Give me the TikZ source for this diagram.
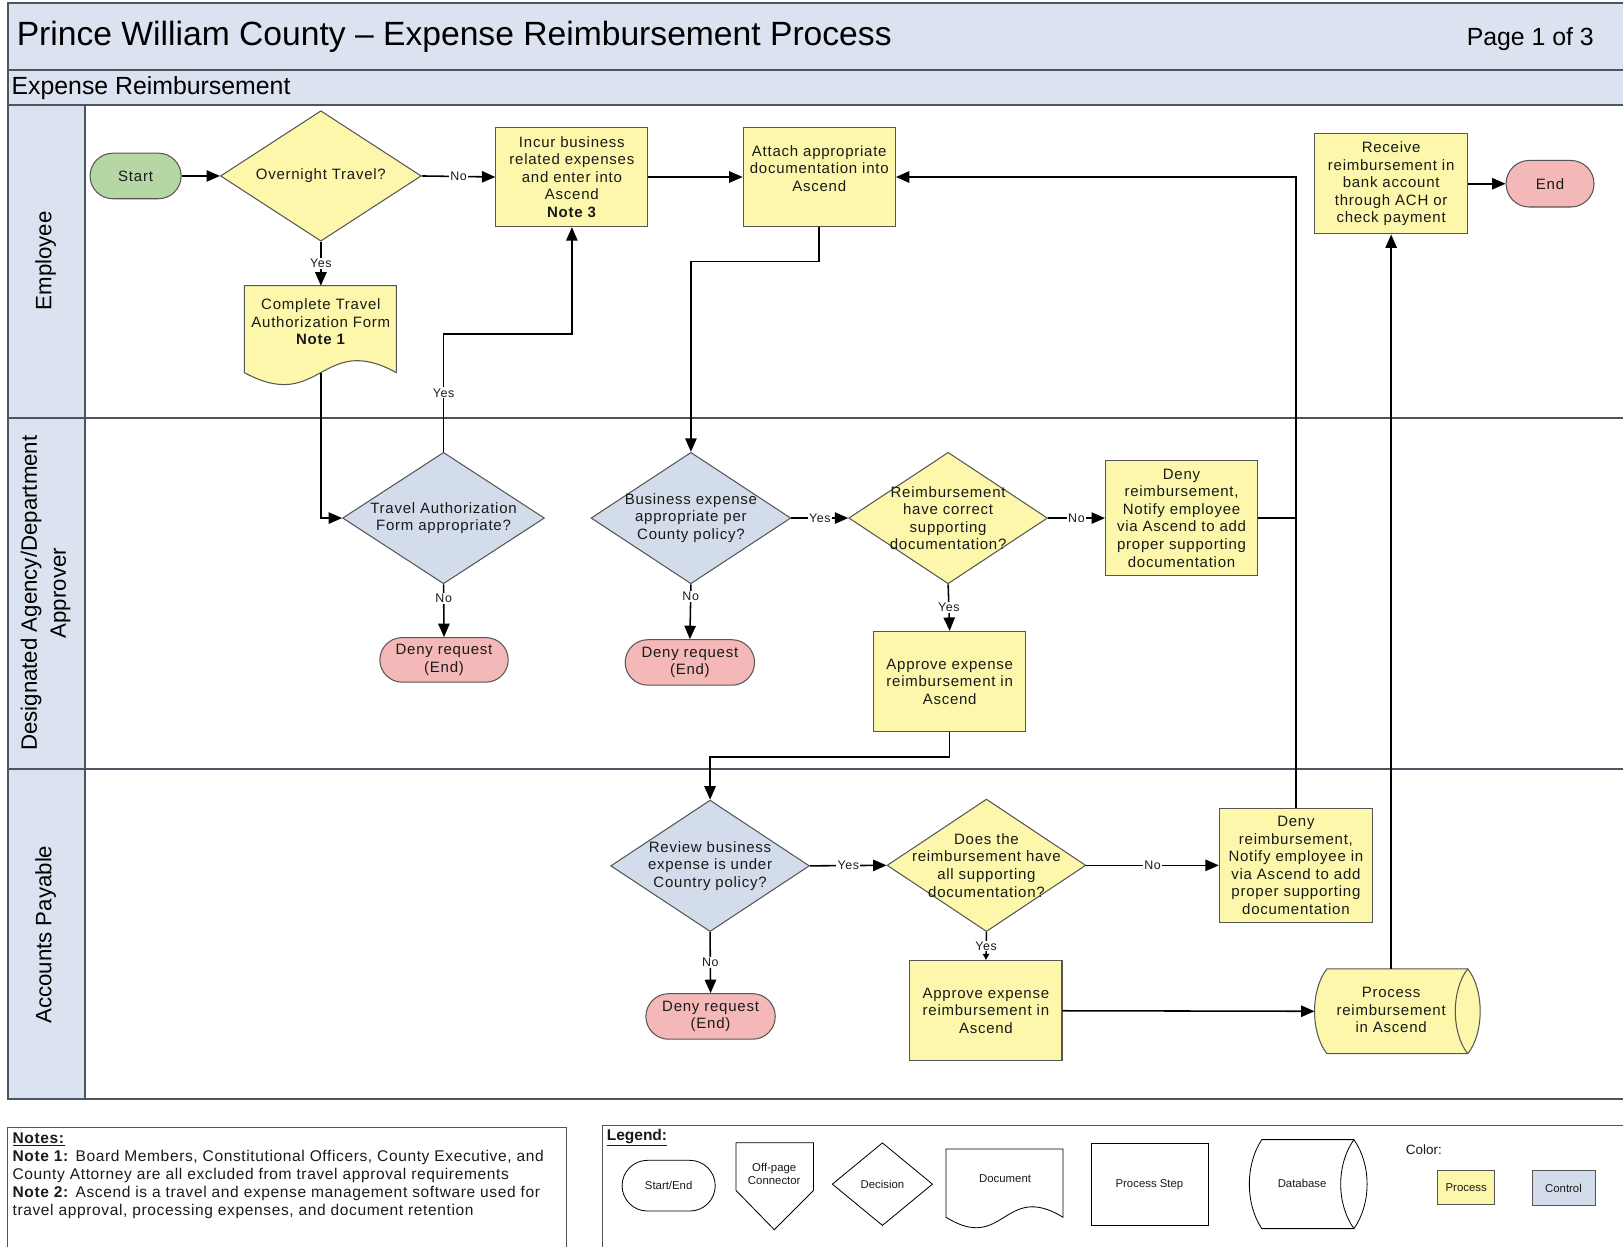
\documentclass[tikz,border=0pt]{standalone}
\usepackage{fontspec}
\setmainfont{Liberation Sans}
\newfontfamily\nf[LetterSpace=5]{Liberation Sans}
\newfontfamily\ntf[LetterSpace=4]{Liberation Sans}
\usetikzlibrary{shapes.geometric,shapes.misc,arrows.meta}
\definecolor{hdr}{HTML}{DCE3F0}
\definecolor{ylw}{HTML}{FCF7AA}
\definecolor{ctl}{HTML}{D3DCEB}
\definecolor{grn}{HTML}{B5D7A3}
\definecolor{pnk}{HTML}{F5B8B8}
\definecolor{bord}{HTML}{555555}
\definecolor{frm}{HTML}{4E5561}
\definecolor{txc}{HTML}{1A1A1A}
\tikzset{
  frame/.style={draw=frm, line width=2pt},
  base/.style={draw=bord, line width=1pt, text=txc, align=center, inner sep=0pt,
    font=\nf\fontsize{14.5}{17}\selectfont},
  txt/.style={text=txc, align=center, inner sep=0pt, font=\nf\fontsize{14.5}{17}\selectfont},
  proc/.style={base, rectangle, fill=ylw},
  dia/.style={base, diamond},
  pill/.style={base, rounded rectangle},
  shapeline/.style={draw=bord, line width=1pt},
  arr/.style={line width=1.5pt, -{Triangle[length=13pt,width=11pt]}},
  smallarr/.style={line width=1.5pt, -{Triangle[length=6pt,width=6pt]}},
  plain/.style={line width=1.5pt},
  lbl/.style={fill=white, inner sep=1pt, text=txc, font=\nf\fontsize{12}{14}\selectfont},
  lg/.style={draw=black, line width=0.8pt, fill=white},
  lgtxt/.style={text=txc, align=center, inner sep=0pt, font=\fontsize{11}{13}\selectfont},
}
\begin{document}
\begin{tikzpicture}[x=1pt,y=-1pt]
\useasboundingbox (0,0) rectangle (1568,1204);
\fill[white] (0,0) rectangle (1568,1204);
% header and lanes
\fill[hdr] (8,3) rectangle (1572,101);
\fill[hdr] (8,101) rectangle (82,1062);
\draw[frame] (1572,3) -- (8,3) -- (8,1062) -- (1572,1062);
\draw[frame] (8,68) -- (1572,68);
\draw[frame] (8,101) -- (1572,101);
\draw[frame] (8,404) -- (1572,404);
\draw[frame] (8,743) -- (1572,743);
\draw[frame] (82,101) -- (82,1062);
\node[anchor=west, inner sep=0pt, font=\fontsize{32.5}{38}\selectfont] (title) at (16,36) {Prince William County – Expense Reimbursement Process};
\node[anchor=east, inner sep=0pt, font=\fontsize{24}{28}\selectfont] (page) at (1540,38) {Page 1 of 3};
\node[anchor=west, inner sep=0pt, font=\fontsize{24}{28}\selectfont] (sub) at (11,85) {Expense Reimbursement};
\node[rotate=90, inner sep=0pt, font=\fontsize{21.5}{28}\selectfont] (l1) at (44,252) {Employee};
\node[rotate=90, inner sep=0pt, align=center, font=\fontsize{21.5}{28}\selectfont] (l2) at (44,573) {Designated Agency/Department\\Approver};
\node[rotate=90, inner sep=0pt, font=\fontsize{21.5}{28}\selectfont] (l3) at (44,903) {Accounts Payable};
% Employee lane
\node[pill, fill=grn, minimum width=88pt, minimum height=44pt] (start) at (131,170) {Start};
\node[dia, fill=ylw, minimum width=194pt, minimum height=126pt] (ot) at (310,170) {};
\node[txt] at (ot) {Overnight Travel?};
\node[proc, minimum width=147pt, minimum height=96pt] (incur) at (552.5,171) {Incur business\\related expenses\\and enter into\\Ascend\\\textbf{Note 3}};
\node[proc, minimum width=147pt, minimum height=96pt] (attach) at (791.5,171) {Attach appropriate\\documentation into\\Ascend\\\mbox{}};
\node[proc, minimum width=148pt, minimum height=97pt] (recv) at (1344,177.5) {Receive\\reimbursement in\\bank account\\through ACH or\\check payment};
\node[pill, fill=pnk, minimum width=85pt, minimum height=45pt] (end) at (1497.5,177.5) {End};
\filldraw[shapeline, fill=ylw] (236,276) -- (383,276) -- (383,360) .. controls (310,320) and (310,400) .. (236,360) -- cycle;
\node[txt] (ctaf) at (310,311) {Complete Travel\\Authorization Form\\\textbf{Note 1}};
\coordinate (ctafTop) at (310,276);
\coordinate (ctafBot) at (310,360);
% Approver lane
\node[dia, fill=ctl, minimum width=195pt, minimum height=127pt] (ta) at (428.5,500.5) {};
\node[txt] at (ta) {Travel Authorization\\Form appropriate?};
\node[pill, fill=pnk, minimum width=124pt, minimum height=43pt] (dr1) at (429,637.5) {Deny request\\(End)};
\node[dia, fill=ctl, minimum width=193pt, minimum height=127pt] (be) at (667.5,500.5) {};
\node[txt] at (be) {Business expense\\appropriate per\\County policy?};
\node[pill, fill=pnk, minimum width=125pt, minimum height=44pt] (dr2) at (666.5,640) {Deny request\\(End)};
\node[dia, fill=ylw, minimum width=192pt, minimum height=127pt] (rd) at (916,500.5) {};
\node[txt] at (rd) {Reimbursement\\have correct\\supporting\\documentation?};
\node[proc, minimum width=147pt, minimum height=111pt] (deny1) at (1141.5,500.5) {Deny\\reimbursement,\\Notify employee\\via Ascend to add\\proper supporting\\documentation};
\node[proc, minimum width=147pt, minimum height=97pt] (appr1) at (917.5,658.5) {Approve expense\\reimbursement in\\Ascend};
% Accounts payable lane
\node[dia, fill=ctl, minimum width=192pt, minimum height=127pt] (rv) at (686,836.5) {};
\node[txt] at (rv) {Review business\\expense is under\\Country policy?};
\node[pill, fill=pnk, minimum width=125pt, minimum height=44pt] (dr3) at (686.5,982) {Deny request\\(End)};
\node[dia, fill=ylw, minimum width=192pt, minimum height=128pt] (does) at (953,836) {};
\node[txt] at (does) {Does the\\reimbursement have\\all supporting\\documentation?};
\node[proc, minimum width=148pt, minimum height=110pt] (deny2) at (1252,836) {Deny\\reimbursement,\\Notify employee in\\via Ascend to add\\proper supporting\\documentation};
\node[proc, minimum width=147pt, minimum height=97pt] (appr2) at (952.5,976.5) {Approve expense\\reimbursement in\\Ascend};
\filldraw[shapeline, fill=ylw] (1282,936) -- (1418,936) .. controls (1434,956) and (1434,998) .. (1418,1018) -- (1282,1018) .. controls (1266,998) and (1266,956) .. (1282,936) -- cycle;
\draw[shapeline] (1418,936) .. controls (1402,956) and (1402,998) .. (1418,1018);
\node[txt] (proc) at (1344,976) {Process\\reimbursement\\in Ascend};
\coordinate (procTop) at (1344,936);
\coordinate (procLeft) at (1270,977);
% connectors
\draw[arr] (start.east) -- (ot.west);
\draw[arr] (ot.east) -- node[lbl]{No} (incur.west);
\draw[arr] (ot.south) -- node[lbl]{Yes} (ctafTop);
\draw[arr] (incur.east) -- (attach.west);
\draw[arr] (attach.south) -- ++(0,33) -| (be.north);
\draw[arr] (ctafBot) |- (ta.west);
\draw[arr] (ta.north) -- node[lbl]{Yes} ++(0,-114) -| (incur.south);
\draw[arr] (ta.south) -- node[lbl, pos=0.27]{No} (dr1.north);
\draw[arr] (be.south) -- node[lbl, pos=0.22]{No} (dr2.north);
\draw[arr] (be.east) -- node[lbl]{Yes} (rd.west);
\draw[arr] (rd.east) -- node[lbl]{No} (deny1.west);
\draw[arr] (rd.south) -- node[lbl]{Yes} (appr1.north);
\draw[arr] (appr1.south) -- ++(0,24) -| (rv.north);
\draw[arr] (rv.south) -- node[lbl]{No} (dr3.north);
\draw[arr] (rv.east) -- node[lbl]{Yes} (does.west);
\draw[arr] (does.east) -- node[lbl]{No} (deny2.west);
\draw[smallarr] (does.south) -- node[lbl]{Yes} (appr2.north);
\draw[arr] (appr2.east) -- (procLeft);
\draw[arr] (procTop) -- (recv.south);
\draw[arr] (recv.east) -- (end.west);
\draw[arr] (deny2.north) -- (deny2.north |- attach.east) -- (attach.east);
\draw[plain] (deny1.east) -- (deny2.north |- deny1.east);
% notes
\draw[line width=1pt, draw=frm] (7,1089) rectangle (547,1212);
\node[anchor=north west, align=left, inner sep=0pt, text=txc, font=\ntf\fontsize{15}{17.5}\selectfont] (notes) at (12,1094) {\underline{\textbf{Notes:}}\\
\textbf{Note 1:} Board Members, Constitutional Officers, County Executive, and\\
County Attorney are all excluded from travel approval requirements\\
\textbf{Note 2:} Ascend is a travel and expense management software used for\\
travel approval, processing expenses, and document retention};
% legend
\draw[line width=1pt, draw=frm] (582,1087) rectangle (1580,1212);
\node[anchor=west, inner sep=0pt, text=txc, font=\fontsize{15}{18}\selectfont] (leg) at (586,1099) {\underline{\textbf{Legend:}}};
\node[lg, rounded rectangle, minimum width=90pt, minimum height=49pt, inner sep=0pt, lgtxt] (lse) at (646,1145.5) {Start/End};
\filldraw[lg] (711,1104) -- (786,1104) -- (786,1150) -- (748,1188) -- (711,1150) -- cycle;
\node[lgtxt] (lopc) at (748,1134) {Off-page\\Connector};
\node[lg, diamond, minimum width=97pt, minimum height=80pt, inner sep=0pt] (ldec) at (852.5,1144) {};
\node[lgtxt] at (ldec) {Decision};
\filldraw[lg] (914,1110) -- (1027,1110) -- (1027,1176) .. controls (970,1141) and (970,1211) .. (914,1176) -- cycle;
\node[lgtxt] (ldoc) at (971,1139) {Document};
\node[lg, rectangle, minimum width=113pt, minimum height=79pt, inner sep=0pt, lgtxt] (lps) at (1110.5,1144.5) {Process Step};
\filldraw[lg] (1219,1101) -- (1308,1101) .. controls (1325,1125) and (1325,1163) .. (1308,1187) -- (1219,1187) .. controls (1203,1163) and (1203,1125) .. (1219,1101) -- cycle;
\draw[line width=0.8pt] (1308,1101) .. controls (1291,1125) and (1291,1163) .. (1308,1187);
\node[lgtxt] (ldb) at (1258,1143) {Database};
\node[anchor=west, inner sep=0pt, text=txc, font=\fontsize{13}{15}\selectfont] (lcol) at (1358,1111) {Color:};
\node[draw=bord, line width=0.8pt, fill=ylw, minimum width=55pt, minimum height=33pt, inner sep=0pt, lgtxt] (lpr) at (1416.5,1147.5) {Process};
\node[draw=bord, line width=0.8pt, fill=ctl, minimum width=61pt, minimum height=34pt, inner sep=0pt, lgtxt] (lct) at (1510.5,1148) {Control};
\end{tikzpicture}
\end{document}
